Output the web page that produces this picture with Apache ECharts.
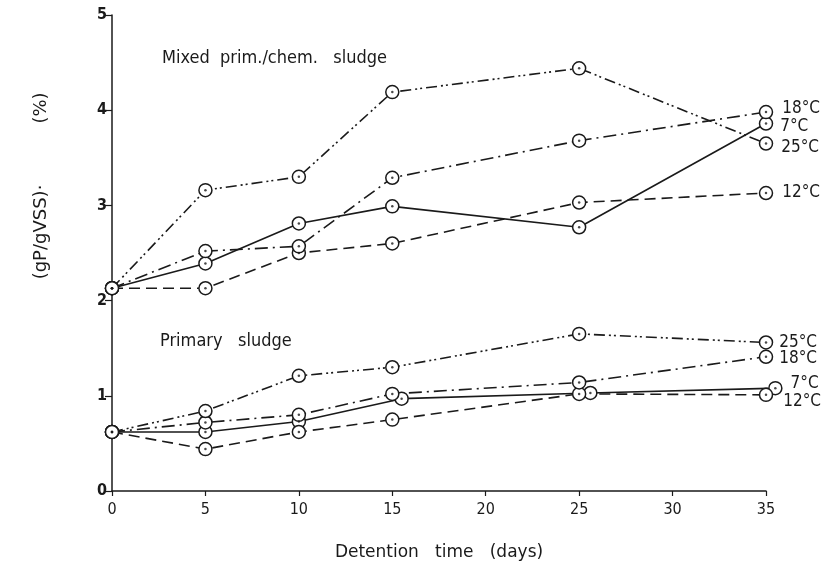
<!DOCTYPE html>
<html>
<head>
<meta charset="utf-8">
<script src="https://cdn.jsdelivr.net/npm/echarts@6/dist/echarts.min.js"></script>
<style>html,body{margin:0;padding:0;background:#fff}#c{width:825px;height:577px}</style>
</head>
<body>
<div id="c"></div>
<script>
// ---- data ----
var days = [0, 5, 10, 15, 25, 35];
var days7prim = [0, 5, 10, 15.5, 25.6, 35.5]; // 7°C primary points drawn slightly offset
var mixed7  = [2.13, 2.39, 2.81, 2.99, 2.77, 3.86];
var mixed12 = [2.13, 2.13, 2.50, 2.60, 3.03, 3.13];
var mixed18 = [2.13, 2.52, 2.57, 3.29, 3.68, 3.98];
var mixed25 = [2.13, 3.16, 3.30, 4.19, 4.44, 3.65];
var prim7   = [0.62, 0.62, 0.73, 0.97, 1.03, 1.08];
var prim12  = [0.62, 0.44, 0.62, 0.75, 1.02, 1.01];
var prim18  = [0.62, 0.72, 0.80, 1.02, 1.14, 1.41];
var prim25  = [0.62, 0.84, 1.21, 1.30, 1.65, 1.56];
var xTicks = [0, 5, 10, 15, 20, 25, 30, 35];
var yTicks = [0, 1, 2, 3, 4, 5];

var FONT = '"DejaVu Sans Condensed", "DejaVu Sans", sans-serif';
var INK = '#1a1a1a';
var styles = {
  '7°C': 'solid',
  '12°C': [11, 6],
  '18°C': [13, 5, 2, 5],
  '25°C': [11, 4, 2, 3, 2, 4]
};

function pairs(xs, ys, labelText, labelOffset) {
  return ys.map(function (v, i) {
    var item = { value: [xs[i], v] };
    if (i === ys.length - 1 && labelText) {
      item.label = {
        show: true, position: 'right', formatter: labelText,
        offset: labelOffset, fontFamily: FONT, fontSize: 17, color: INK
      };
    }
    return item;
  });
}

function lineSeries(name, xs, ys, labelOffset) {
  return {
    type: 'line', name: name,
    data: pairs(xs, ys, name, labelOffset),
    symbol: 'circle', symbolSize: 13,
    itemStyle: { color: '#fff', borderColor: INK, borderWidth: 1.5 },
    lineStyle: { color: INK, width: 1.6, type: styles[name] },
    label: { show: false },
    clip: false,
    z: 2, animation: false
  };
}
function dotSeries(xs, ys) {
  return {
    type: 'scatter', data: ys.map(function (v, i) { return [xs[i], v]; }),
    symbol: 'circle', symbolSize: 2.5, itemStyle: { color: INK },
    clip: false,
    z: 5, animation: false, silent: true
  };
}

var series = [
  lineSeries('7°C', days, mixed7, [2, 3]),
  lineSeries('12°C', days, mixed12, [4, 0]),
  lineSeries('18°C', days, mixed18, [4, -4]),
  lineSeries('25°C', days, mixed25, [3, 4]),
  lineSeries('7°C', days7prim, prim7, [3, -5]),
  lineSeries('12°C', days, prim12, [5, 7]),
  lineSeries('18°C', days, prim18, [1, 2]),
  lineSeries('25°C', days, prim25, [1, 0]),
  dotSeries(days, mixed7), dotSeries(days, mixed12), dotSeries(days, mixed18), dotSeries(days, mixed25),
  dotSeries(days7prim, prim7), dotSeries(days, prim12), dotSeries(days, prim18), dotSeries(days, prim25)
];

var chart = echarts.init(document.getElementById('c'), null, { renderer: 'canvas' });
chart.setOption({
  backgroundColor: '#fff',
  animation: false,
  grid: { left: 112, right: 59, top: 15, bottom: 86 },
  xAxis: {
    type: 'value', min: xTicks[0], max: xTicks[xTicks.length - 1], interval: 5,
    axisLine: { lineStyle: { color: INK, width: 1.5 } },
    axisTick: { show: true, length: 5, lineStyle: { color: INK, width: 1.2 } },
    splitLine: { show: false },
    axisLabel: { fontFamily: FONT, fontSize: 16, color: INK, margin: 11 },
    name: 'Detention   time   (days)', nameLocation: 'middle', nameGap: 53,
    nameTextStyle: { fontFamily: '"DejaVu Sans", sans-serif', fontSize: 17, color: INK }
  },
  yAxis: {
    type: 'value', min: yTicks[0], max: yTicks[yTicks.length - 1], interval: 1,
    axisLine: { show: true, lineStyle: { color: INK, width: 1.5 } },
    axisTick: { show: true, length: 7, lineStyle: { color: INK, width: 1.2 } },
    splitLine: { show: false },
    axisLabel: { fontFamily: FONT, fontSize: 16, fontWeight: 'bold', color: INK, margin: 5 }
  },
  graphic: [
    { type: 'text', left: 162, top: 49, style: { text: 'Mixed  prim./chem.   sludge', font: '18px ' + FONT, fill: INK } },
    { type: 'text', left: 160, top: 332, style: { text: 'Primary   sludge', font: '18px ' + FONT, fill: INK } },
    { type: 'text', x: 41, y: 232, rotation: Math.PI / 2,
      style: { text: '(gP/gVSS)·', font: '18px "DejaVu Sans", sans-serif', fill: INK, align: 'center', verticalAlign: 'middle' } },
    { type: 'text', x: 41, y: 108, rotation: Math.PI / 2,
      style: { text: '(%)', font: '18px "DejaVu Sans", sans-serif', fill: INK, align: 'center', verticalAlign: 'middle' } }
  ],
  series: series
});
</script>
</body>
</html>
